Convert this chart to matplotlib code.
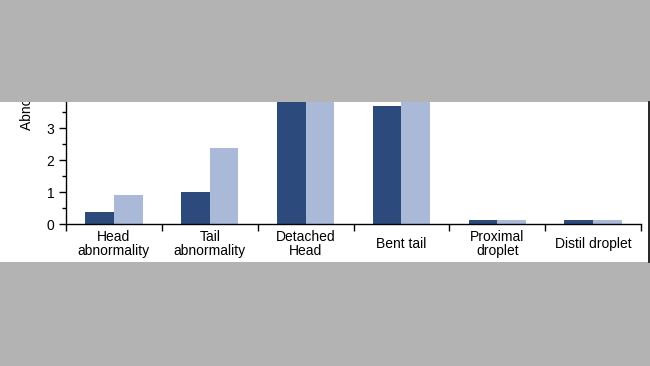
import matplotlib.pyplot as plt
import matplotlib as mpl
from matplotlib.patches import Rectangle
from matplotlib.lines import Line2D
import numpy as np

mpl.rcParams['font.family'] = ['Liberation Sans', 'DejaVu Sans']
mpl.rcParams['font.size'] = 10

# Data (values above ~3.8 are cut off in the source image, so those are estimates)
categories = ['Head\nabnormality', 'Tail\nabnormality', 'Detached\nHead',
              'Bent tail', 'Proximal\ndroplet', 'Distil droplet']
group_a = [0.38, 1.0, 5.2, 3.69, 0.12, 0.12]
group_b = [0.9, 2.37, 4.6, 4.4, 0.12, 0.12]

dark = '#2c4a7b'
light = '#a9b9d7'
grey = '#b3b3b3'

W, H = 650, 366
fig = plt.figure(figsize=(W / 100, H / 100), dpi=100, facecolor='white')

# axes: left spine at x=66, x-axis at y=224, top cut at y=102 (pixels from top)
ax = fig.add_axes([66 / W, (H - 224) / H, (641 - 66) / W, (224 - 102) / H])
x = np.arange(len(categories))
bw = 0.30
ax.bar(x - bw / 2, group_a, width=bw, color=dark, zorder=2)
ax.bar(x + bw / 2, group_b, width=bw, color=light, zorder=2)

ax.set_xlim(-0.5, len(categories) - 0.5)
ax.set_ylim(0, 122 / 32)
ax.set_yticks([0, 1, 2, 3])
ax.set_yticks(np.arange(0.5, 3.6, 1.0), minor=True)
ax.set_xticks(np.arange(-0.5, len(categories), 1.0))
ax.set_xticklabels([])
ax.tick_params(axis='both', which='major', direction='out', length=5, width=1,
               colors='black', labelsize=10)
ax.tick_params(axis='y', which='minor', direction='out', length=3, width=1)
ax.tick_params(axis='x', which='minor', length=0)
for s in ['top', 'right']:
    ax.spines[s].set_visible(False)
for s in ['left', 'bottom']:
    ax.spines[s].set_linewidth(1)

# category labels, vertically centred below the axis
for xi, lab in zip(x, categories):
    ax.text(xi, -20 / 122, lab, transform=ax.get_xaxis_transform(),
            ha='center', va='center', fontsize=10, linespacing=1.05)

# y label (its top is hidden under the grey band)
fig.text(27 / W, (H - 130) / H, 'Abnormality (%)', rotation=90,
         ha='center', va='bottom', fontsize=10)

# grey bands cropping the picture
fig.patches.append(Rectangle((0, (H - 102) / H), 1, 102 / H, transform=fig.transFigure,
                             facecolor=grey, edgecolor='none', zorder=10))
fig.patches.append(Rectangle((0, 0), 1, (H - 262) / H, transform=fig.transFigure,
                             facecolor=grey, edgecolor='none', zorder=10))
fig.lines.append(Line2D([648.5 / W, 648.5 / W], [(H - 262) / H, (H - 102) / H],
                        transform=fig.transFigure, color='black', linewidth=1.2, zorder=11))

fig.savefig('out.png', dpi=100, facecolor=fig.get_facecolor())
